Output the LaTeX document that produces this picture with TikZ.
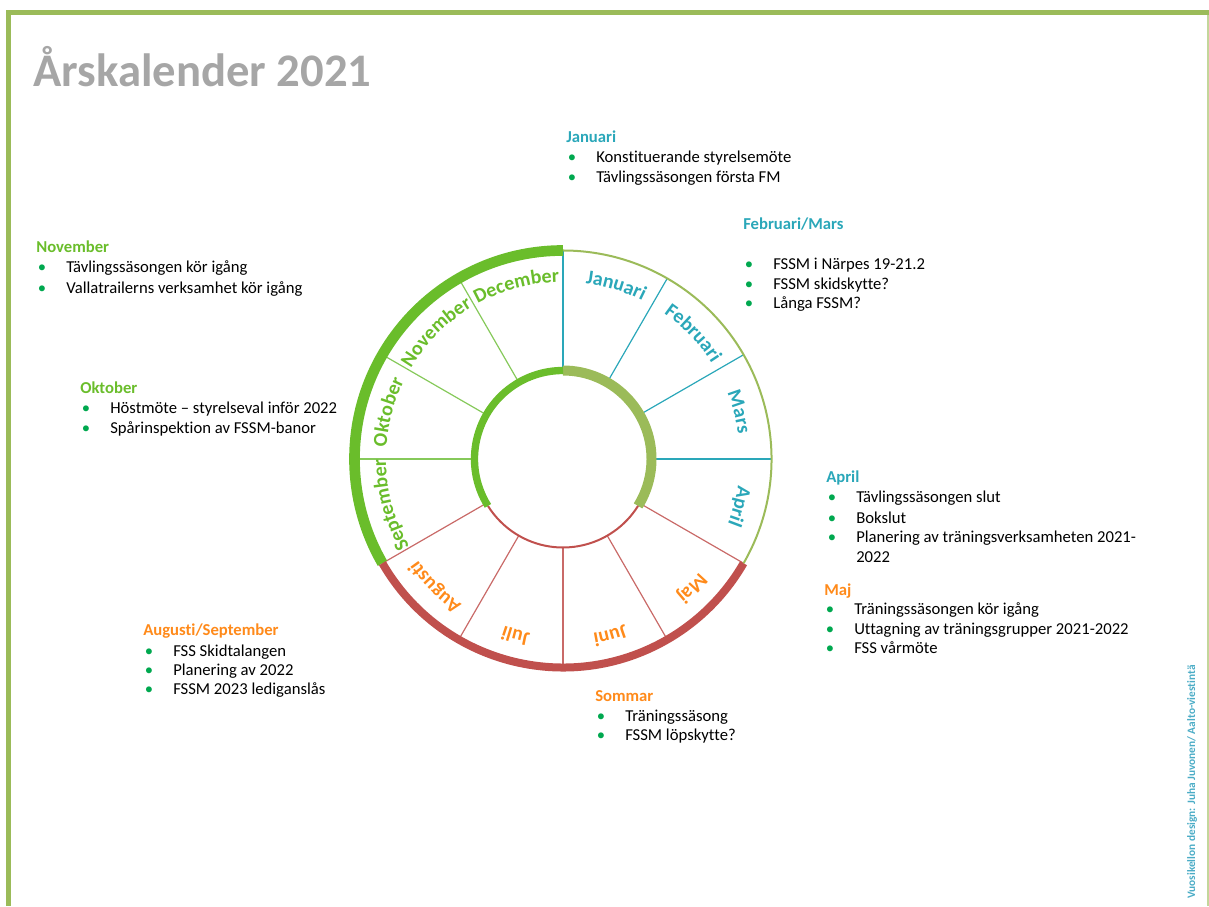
\documentclass[tikz,border=0pt]{standalone}
\usepackage{fontspec}
\setmainfont{Carlito}[Ligatures={TeX,NoCommon}]
\usepackage{xcolor}
\usepackage{tikz}
\usetikzlibrary{calc}
\usetikzlibrary{decorations.text}

\definecolor{olivec}{HTML}{9BBB59}
\definecolor{lightolive}{HTML}{C3D69B}
\definecolor{greenc}{HTML}{6ABD2B}
\definecolor{spokegreen}{HTML}{86C95A}
\definecolor{redc}{HTML}{C0504D}
\definecolor{tealc}{HTML}{2AA7B9}
\definecolor{orangec}{HTML}{FF8A1A}
\definecolor{bulgreen}{HTML}{00A84F}
\definecolor{titlegray}{HTML}{A6A6A6}
\definecolor{creditblue}{HTML}{4BACC6}

\newcommand{\bul}{\makebox[22.5pt][l]{\hspace{1.2pt}\textcolor{bulgreen}{\textbullet}}}
\newcommand{\mfont}{\fontsize{15}{18}\selectfont\bfseries}

\tikzset{
  head/.style={anchor=base west,inner sep=0pt,font=\fontsize{12.5}{15}\selectfont\bfseries},
  item/.style={anchor=base west,inner sep=0pt,font=\fontsize{12.5}{15}\selectfont},
  spoke/.style={line width=0.9pt},
  monthlab/.style={decorate,decoration={text along path,text align=center}},
}

\begin{document}
\begin{tikzpicture}[x=0.75pt,y=0.75pt]
	\useasboundingbox (0,0) rectangle (1209,906);
	% frame
	\draw[olivec,line width=3.75pt] (6,893.5) -- (1209,893.5);
	\draw[olivec,line width=3.75pt] (8.5,895) -- (8.5,0);
	\draw[lightolive,line width=1.1pt] (1208,891) -- (1208,0);
	\node[anchor=base west,inner sep=0pt,text=titlegray,font=\fontsize{35}{40}\selectfont\bfseries] (title) at (33,819) {Årskalender 2021};

	% wheel
	\coordinate (hub) at (563,447);
	\foreach \a in {90,60,30,0}
		\draw[spoke,tealc] ($(hub)+(\a:88.5)$) -- ($(hub)+(\a:208.5)$);
	\foreach \a in {-30,-60,-90,-120,-150}
		\draw[spoke,redc!85] ($(hub)+(\a:88.5)$) -- ($(hub)+(\a:208.5)$);
	\foreach \a in {180,150,120}
		\draw[spoke,spokegreen] ($(hub)+(\a:88.5)$) -- ($(hub)+(\a:208.5)$);
	\draw[greenc,line width=8pt] ($(hub)+(90:208.5)$) arc[start angle=90,end angle=210,radius=208.5];
	\draw[redc,line width=6pt] ($(hub)+(210:208.5)$) arc[start angle=210,end angle=330,radius=208.5];
	\draw[olivec,line width=1.5pt] ($(hub)+(-30:208.5)$) arc[start angle=-30,end angle=90,radius=208.5];
	\draw[olivec,line width=7.5pt] ($(hub)+(90:88.5)$) arc[start angle=90,end angle=-32,radius=88.5];
	\draw[redc,line width=1.5pt] ($(hub)+(-32:88.5)$) arc[start angle=-32,end angle=-148,radius=88.5];
	\draw[greenc,line width=5.5pt] ($(hub)+(212:88.5)$) arc[start angle=212,end angle=90,radius=88.5];

	% month names
	\path[monthlab,decoration={text={|\mfont\color{tealc}|Januari}}] ($(hub)+(98:177)$) arc[start angle=98,end angle=48,radius=177];
	\path[monthlab,decoration={text={|\mfont\color{tealc}|Februari}}] ($(hub)+(69:177)$) arc[start angle=69,end angle=19,radius=177];
	\path[monthlab,decoration={text={|\mfont\color{tealc}|Mars}}] ($(hub)+(40:177)$) arc[start angle=40,end angle=-10,radius=177];
	\path[monthlab,decoration={text={|\mfont\color{tealc}|April}}] ($(hub)+(10:177)$) arc[start angle=10,end angle=-40,radius=177];
	\path[monthlab,decoration={text={|\mfont\color{orangec}|Maj}}] ($(hub)+(-20:177)$) arc[start angle=-20,end angle=-70,radius=177];
	\path[monthlab,decoration={text={|\mfont\color{orangec}|Juni}}] ($(hub)+(-50:177)$) arc[start angle=-50,end angle=-100,radius=177];
	\path[monthlab,decoration={text={|\mfont\color{orangec}|Juli}}] ($(hub)+(-80:177)$) arc[start angle=-80,end angle=-130,radius=177];
	\path[monthlab,decoration={text={|\mfont\color{orangec}|Augusti}}] ($(hub)+(-110:177)$) arc[start angle=-110,end angle=-160,radius=177];
	\path[monthlab,decoration={text={|\mfont\color{greenc}|September}}] ($(hub)+(-140:177)$) arc[start angle=-140,end angle=-190,radius=177];
	\path[monthlab,decoration={text={|\mfont\color{greenc}|Oktober}}] ($(hub)+(190:177)$) arc[start angle=190,end angle=140,radius=177];
	\path[monthlab,decoration={text={|\mfont\color{greenc}|November}}] ($(hub)+(160:177)$) arc[start angle=160,end angle=110,radius=177];
	\path[monthlab,decoration={text={|\mfont\color{greenc}|December}}] ($(hub)+(130:177)$) arc[start angle=130,end angle=80,radius=177];

	% events
	\node[head,text=tealc] (jan-h) at (566,763) {Januari};
	\node[item] (jan-1) at (566,743) {\bul Konstituerande styrelsemöte};
	\node[item] (jan-2) at (566,723) {\bul Tävlingssäsongen första FM};

	\node[head,text=tealc] (feb-h) at (743,676) {Februari/Mars};
	\node[item] (feb-1) at (743,636) {\bul FSSM i Närpes 19-21.2};
	\node[item] (feb-2) at (743,616.5) {\bul FSSM skidskytte?};
	\node[item] (feb-3) at (743,597) {\bul Långa FSSM?};

	\node[head,text=greenc] (nov-h) at (36,653) {November};
	\node[item] (nov-1) at (36,633) {\bul Tävlingssäsongen kör igång};
	\node[item] (nov-2) at (36,612.5) {\bul Vallatrailerns verksamhet kör igång};

	\node[head,text=greenc] (okt-h) at (80,512) {Oktober};
	\node[item] (okt-1) at (80,492) {\bul Höstmöte – styrelseval inför 2022};
	\node[item] (okt-2) at (80,472) {\bul Spårinspektion av FSSM-banor};

	\node[head,text=tealc] (apr-h) at (826,423) {April};
	\node[item] (apr-1) at (826,403) {\bul Tävlingssäsongen slut};
	\node[item] (apr-2) at (826,382.5) {\bul Bokslut};
	\node[item] (apr-3) at (826,363) {\bul Planering av träningsverksamheten 2021-};
	\node[item] (apr-4) at (826,343) {\hspace*{22.5pt}2022};

	\node[head,text=orangec] (maj-h) at (824,310) {Maj};
	\node[item] (maj-1) at (824,291) {\bul Träningssäsongen kör igång};
	\node[item] (maj-2) at (824,271) {\bul Uttagning av träningsgrupper 2021-2022};
	\node[item] (maj-3) at (824,252) {\bul FSS vårmöte};

	\node[head,text=orangec] (aug-h) at (143,270) {Augusti/September};
	\node[item] (aug-1) at (143,249.5) {\bul FSS Skidtalangen};
	\node[item] (aug-2) at (143,230) {\bul Planering av 2022};
	\node[item] (aug-3) at (143,211) {\bul FSSM 2023 lediganslås};

	\node[head,text=orangec] (som-h) at (595,204) {Sommar};
	\node[item] (som-1) at (595,184) {\bul Träningssäsong};
	\node[item] (som-2) at (595,165) {\bul FSSM löpskytte?};

	\node[rotate=90,anchor=base west,inner sep=0pt,text=creditblue,font=\fontsize{8.5}{10}\selectfont\bfseries] (credit) at (1195,7) {Vuosikellon design: Juha Juvonen/ Aalto-viestintä};
\end{tikzpicture}
\end{document}
